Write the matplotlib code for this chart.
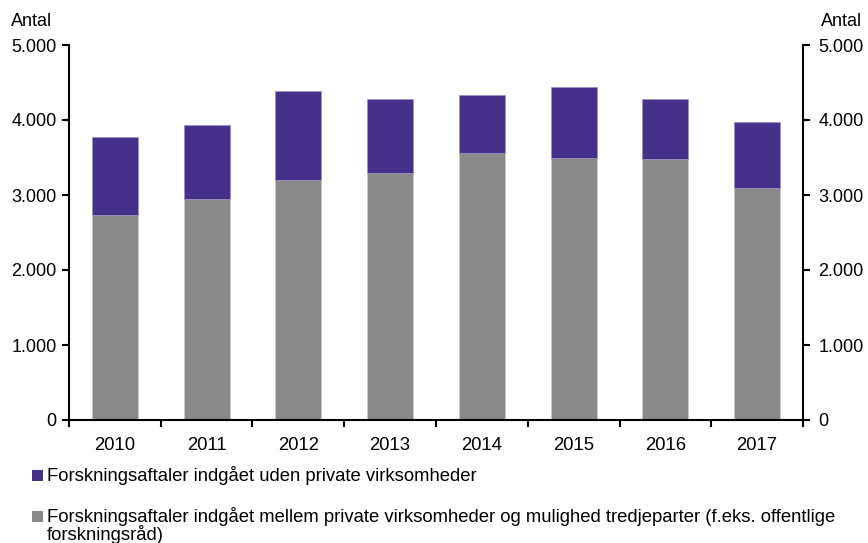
import matplotlib
matplotlib.use("Agg")
import matplotlib.pyplot as plt
from matplotlib.patches import Rectangle
import numpy as np

plt.rcParams['font.family'] = ['Liberation Sans', 'DejaVu Sans']

years = ["2010", "2011", "2012", "2013", "2014", "2015", "2016", "2017"]
med_private = [2730, 2950, 3200, 3290, 3560, 3500, 3480, 3090]
uden_private = [1050, 990, 1190, 995, 775, 940, 795, 885]
yticks = [0, 1000, 2000, 3000, 4000, 5000]
ytick_labels = ["0", "1.000", "2.000", "3.000", "4.000", "5.000"]
label_uden = ["Forskningsaftaler indgået uden private virksomheder"]
label_med = ["Forskningsaftaler indgået mellem private virksomheder og mulighed tredjeparter (f.eks. offentlige",
             "forskningsråd)"]

purple = "#46318A"
gray = "#898989"

W, H = 868, 543
fig = plt.figure(figsize=(W / 100, H / 100), dpi=100)
ax = fig.add_axes([69 / W, 1 - 420 / H, (803 - 69) / W, (420 - 45) / H])

x = np.arange(len(years))
ax.bar(x, med_private, width=0.5, color=gray, edgecolor="#c8c8c8", linewidth=0.6, zorder=2)
ax.bar(x, uden_private, width=0.5, bottom=med_private, color=purple, edgecolor="#9a90c0",
       linewidth=0.6, zorder=2)

ax.set_xlim(-0.5, len(years) - 0.5)
ax.set_ylim(0, 5000)
ax.set_yticks(yticks)
ax.set_yticklabels(ytick_labels)
ax.set_xticks(x)
ax.set_xticklabels(years)
ax.set_xticks(np.arange(-0.5, len(years), 1.0), minor=True)
ax.tick_params(axis='x', which='major', length=0, pad=12, labelsize=13.3)
ax.tick_params(axis='x', which='minor', length=5, width=1.5, direction='out')
ax.tick_params(axis='y', which='major', length=5, width=1.5, direction='out', pad=4, labelsize=13)

for s in ["top", "right"]:
    ax.spines[s].set_visible(False)
for s in ["left", "bottom"]:
    ax.spines[s].set_linewidth(1.5)

ax2 = ax.twinx()
ax2.set_ylim(0, 5000)
ax2.set_yticks(yticks)
ax2.set_yticklabels(ytick_labels)
ax2.tick_params(axis='y', which='major', length=5, width=1.5, direction='out', pad=6, labelsize=13)
for s in ["top", "left", "bottom"]:
    ax2.spines[s].set_visible(False)
ax2.spines["right"].set_linewidth(1.5)

fig.text(11 / W, 1 - 26 / H, "Antal", fontsize=13, ha='left', va='baseline')
fig.text(862 / W, 1 - 26 / H, "Antal", fontsize=13, ha='right', va='baseline')

# legend
for (ytop, col, lines) in [(470, purple, label_uden), (511, gray, label_med)]:
    fig.add_artist(Rectangle((32 / W, 1 - (ytop + 11) / H), 11 / W, 11 / H,
                             transform=fig.transFigure, facecolor=col, edgecolor='none'))
    for i, line in enumerate(lines):
        fig.text(47 / W, 1 - (ytop + 11 + 18.5 * i) / H, line, fontsize=13.3,
                 ha='left', va='baseline')

fig.savefig("out.png", dpi=100)
